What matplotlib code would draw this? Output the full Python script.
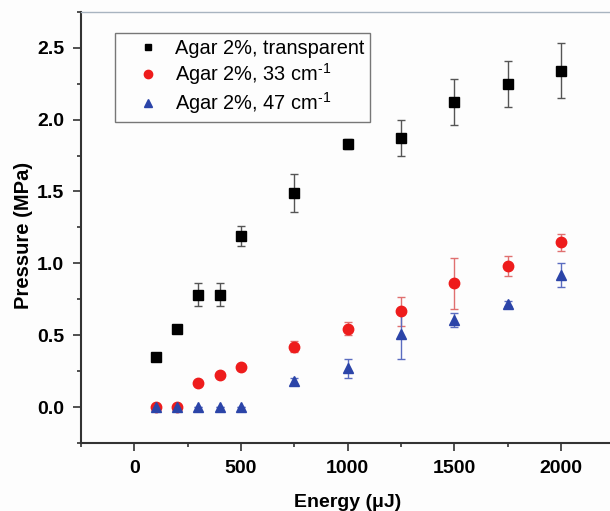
import matplotlib
matplotlib.use('Agg')
import matplotlib.pyplot as plt
from matplotlib.ticker import MultipleLocator
from matplotlib.lines import Line2D

# Data
energy = [100, 200, 300, 400, 500, 750, 1000, 1250, 1500, 1750, 2000]

p_transparent = [0.35, 0.54, 0.78, 0.78, 1.19, 1.49, 1.83, 1.87, 2.12, 2.25, 2.34]
e_transparent = [0.0, 0.0, 0.08, 0.08, 0.07, 0.13, 0.035, 0.125, 0.16, 0.16, 0.19]

p_33 = [0.0, 0.0, 0.17, 0.22, 0.28, 0.42, 0.545, 0.665, 0.86, 0.98, 1.145]
e_33 = [0.0, 0.0, 0.0, 0.0, 0.0, 0.04, 0.045, 0.10, 0.175, 0.07, 0.06]

p_47 = [0.0, 0.0, 0.0, 0.0, 0.0, 0.18, 0.27, 0.505, 0.605, 0.72, 0.92]
e_47 = [0.0, 0.0, 0.0, 0.0, 0.0, 0.02, 0.065, 0.17, 0.05, 0.02, 0.085]

labels = ['Agar 2%, transparent',
          'Agar 2%, 33 cm$^{\\mathregular{\u20101}}$',
          'Agar 2%, 47 cm$^{\\mathregular{\u20101}}$']

plt.rcParams['font.family'] = ['Liberation Sans', 'DejaVu Sans']

fig = plt.figure(figsize=(6.1, 5.11), dpi=100)
fig.patch.set_facecolor('#fdfdfd')
ax = fig.add_axes([0.1328, 0.133, 0.874, 0.844])
ax.set_facecolor('#fdfdfd')

series = [
    (p_transparent, e_transparent, 's', '#000000', '#555555', 6.5),
    (p_33, e_33, 'o', '#ee1c1c', '#e07070', 7.5),
    (p_47, e_47, '^', '#2b44a8', '#5a6cc0', 7.5),
]
handles = []
for (p, e, m, c, ec, ms), lab in zip(series, labels):
    ax.errorbar(energy, p, yerr=e, fmt=m, color=c, ecolor=ec, ms=ms,
                elinewidth=1.0, capsize=3, capthick=1.0, zorder=3)
    handles.append(Line2D([], [], ls='none', marker=m, color=c, ms=ms - 1.5, label=lab))

ax.set_xlim(-250, 2250)
ax.set_ylim(-0.25, 2.75)
ax.xaxis.set_major_locator(MultipleLocator(500))
ax.xaxis.set_minor_locator(MultipleLocator(250))
ax.yaxis.set_major_locator(MultipleLocator(0.5))
ax.yaxis.set_minor_locator(MultipleLocator(0.25))
ax.yaxis.set_major_formatter(plt.FuncFormatter(lambda v, pos: '%.1f' % v))

ax.tick_params(which='major', direction='out', length=6, width=1.2, color='#333333')
ax.tick_params(which='minor', direction='out', length=3, width=1.2, color='#333333')
ax.tick_params(axis='both', labelsize=14, pad=6)
for t in ax.get_xticklabels() + ax.get_yticklabels():
    t.set_fontweight('bold')

for s in ['left', 'bottom']:
    ax.spines[s].set_linewidth(1.5)
    ax.spines[s].set_color('#333333')
ax.spines['top'].set_color('#a8b4c0')
ax.spines['top'].set_linewidth(1.0)
ax.spines['right'].set_visible(False)

ax.set_xlabel('Energy (\u03bcJ)', fontsize=14, fontweight='bold', labelpad=12.5)
ax.set_ylabel('Pressure (MPa)', fontsize=14.5, fontweight='bold')
ax.yaxis.set_label_coords(-0.09, 0.481)

leg = ax.legend(handles=handles, loc='upper left',
                bbox_to_anchor=(115 / 610, 1 - 33 / 511), bbox_transform=fig.transFigure,
                borderaxespad=0, fontsize=14.4,
                frameon=True, fancybox=False, edgecolor='#555555',
                handletextpad=0.0, borderpad=0.3, labelspacing=0.15,
                handlelength=2.7)
leg.get_frame().set_linewidth(1.0)
leg.get_frame().set_facecolor('#fdfdfd')

fig.savefig('out.png', dpi=100, facecolor=fig.get_facecolor())
